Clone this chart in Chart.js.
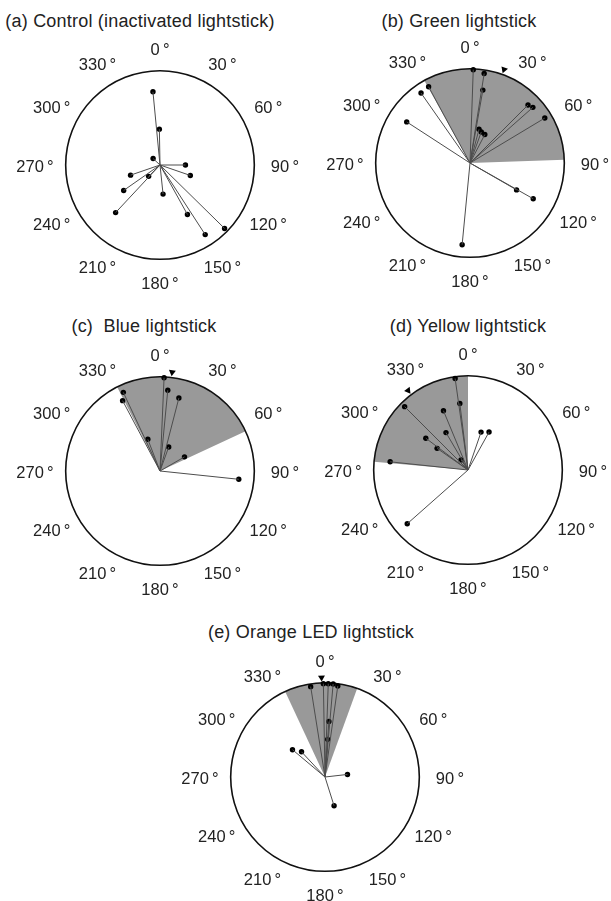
<!DOCTYPE html>
<html>
<head>
<meta charset="utf-8">
<script src="https://cdn.jsdelivr.net/npm/chart.js@4.4.0/dist/chart.umd.min.js"></script>
<style>
  html, body { margin: 0; padding: 0; background: #fff; }
  body { width: 611px; height: 901px; position: relative; overflow: hidden; font-family: "Liberation Sans", Arial, Helvetica, sans-serif; }
  canvas { position: absolute; }
  .title { position: absolute; font-size: 18px; line-height: 18px; letter-spacing: 0.2px; color: #222; white-space: pre; transform: translateX(-50%); }
</style>
</head>
<body>
<div class="title" style="left:140px; top:12px;">(a) Control (inactivated lightstick)</div>
<div class="title" style="left:459px; top:12px;">(b) Green lightstick</div>
<div class="title" style="left:144px; top:317px;">(c)  Blue lightstick</div>
<div class="title" style="left:468px; top:317px;">(d) Yellow lightstick</div>
<div class="title" style="left:311px; top:623px;">(e) Orange LED lightstick</div>

<canvas id="chartA" width="290" height="290"></canvas>
<canvas id="chartB" width="290" height="290"></canvas>
<canvas id="chartC" width="290" height="290"></canvas>
<canvas id="chartD" width="290" height="290"></canvas>
<canvas id="chartE" width="290" height="290"></canvas>

<script>
// compass tick labels (degrees, clockwise from north)
const tickAngles = [0, 30, 60, 90, 120, 150, 180, 210, 240, 270, 300, 330];

// (a) control - heading (deg) and vector length (fraction of radius)
const anglesA = [354.5, 359, 313, 90, 109, 251, 225, 235, 223, 174, 151, 147, 134.5];
const lengthsA = [0.78, 0.38, 0.10, 0.27, 0.34, 0.33, 0.17, 0.47, 0.69, 0.31, 0.60, 0.88, 0.96];

// (b) green
const anglesB = [2, 9, 10, 331.5, 325, 303, 45, 48.5, 59, 15, 20, 27.5, 120, 119.5, 185.5];
const lengthsB = [0.99, 0.96, 0.785, 0.92, 0.905, 0.80, 0.87, 0.89, 0.925, 0.37, 0.35, 0.34, 0.57, 0.77, 0.87];
const sectorB = [331, 88];
const meanB = 20;

// (c) blue
const anglesC = [2.5, 5.5, 14.5, 335, 332, 339, 20, 60, 96];
const lengthsC = [0.99, 0.86, 0.80, 0.92, 0.845, 0.36, 0.27, 0.30, 0.84];
const sectorC = [333, 65];
const meanC = 7;

// (d) yellow
const anglesD = [352, 353, 337.5, 315, 329.5, 307, 305, 325.5, 276, 19, 29, 228.5];
const lengthsD = [0.98, 0.71, 0.68, 0.95, 0.46, 0.56, 0.40, 0.13, 0.83, 0.425, 0.46, 0.86];
const sectorD = [275, 360];
const meanD = 323;

// (e) orange LED
const anglesE = [351, 359, 2, 5, 8, 4, 4, 310, 317, 83.5, 162.5];
const lengthsE = [0.97, 0.99, 0.99, 0.99, 0.975, 0.59, 0.40, 0.45, 0.365, 0.24, 0.32];
const sectorE = [335, 20];
const meanE = 358;

const R = 97;      // circle radius in px
const HALF = 145;  // half canvas size
const rad = d => d * Math.PI / 180;
const toXY = (a, r) => ({ x: Math.sin(rad(a)) * r, y: Math.cos(rad(a)) * r });

// circle, grey sector and angle labels, all placed through the chart scales
const polarFrame = {
    id: 'polarFrame',
    beforeDatasetsDraw(chart, args, opts) {
        const { ctx, scales: { x, y } } = chart;
        const cx = x.getPixelForValue(0);
        const cy = y.getPixelForValue(0);
        const r = x.getPixelForValue(1) - cx;
        ctx.save();
        if (opts.sector) {
            const s = opts.sector[0];
            const span = ((opts.sector[1] - s) % 360 + 360) % 360 || 360;
            ctx.beginPath();
            ctx.moveTo(cx, cy);
            ctx.arc(cx, cy, r, rad(s - 90), rad(s + span - 90));
            ctx.closePath();
            ctx.fillStyle = '#999999';
            ctx.fill();
        }
        ctx.beginPath();
        ctx.arc(cx, cy, r, 0, Math.PI * 2);
        ctx.lineWidth = 1.6;
        ctx.strokeStyle = '#111';
        ctx.stroke();
        ctx.restore();
    },
    afterDraw(chart) {
        const { ctx, scales: { x, y } } = chart;
        const cx = x.getPixelForValue(0);
        const cy = y.getPixelForValue(0);
        ctx.save();
        ctx.font = '16.5px "Liberation Sans", Arial, sans-serif';
        ctx.fillStyle = '#222';
        ctx.textAlign = 'center';
        ctx.textBaseline = 'middle';
        tickAngles.forEach(a => {
            const px = cx + 125 * Math.sin(rad(a));
            const py = cy - 117 * Math.cos(rad(a)) + 2;
            ctx.fillText(a + '\u2009°', px, py);
        });
        ctx.restore();
    }
};

function makePolar(id, center, angles, lengths, sector, mean) {
    const canvas = document.getElementById(id);
    canvas.style.left = (center[0] - HALF) + 'px';
    canvas.style.top = (center[1] - HALF) + 'px';

    const ends = angles.map((a, i) => toXY(a, lengths[i]));

    // one line dataset per vector, centre to end
    const datasets = ends.map(p => ({
        type: 'line',
        data: [{ x: 0, y: 0 }, p],
        borderColor: '#4d4d4d',
        borderWidth: 1,
        pointRadius: 0,
        fill: false
    }));

    datasets.push({
        type: 'line',
        data: ends,
        showLine: false,
        pointRadius: 2.7,
        pointBackgroundColor: '#000',
        pointBorderWidth: 0
    });

    if (mean !== null) {
        datasets.push({
            type: 'line',
            data: [toXY(mean, 1.055)],
            showLine: false,
            pointStyle: 'triangle',
            rotation: mean + 180,
            pointRadius: 4,
            pointBackgroundColor: '#000',
            pointBorderColor: '#000',
            pointBorderWidth: 0
        });
    }

    const lim = HALF / R;
    return new Chart(canvas.getContext('2d'), {
        type: 'line',
        data: { datasets: datasets },
        options: {
            responsive: false,
            maintainAspectRatio: false,
            animation: false,
            events: [],
            layout: { padding: 0 },
            plugins: {
                legend: { display: false },
                tooltip: { enabled: false },
                polarFrame: { sector: sector }
            },
            scales: {
                x: { type: 'linear', min: -lim, max: lim, display: false },
                y: { type: 'linear', min: -lim, max: lim, display: false }
            }
        },
        plugins: [polarFrame]
    });
}

makePolar('chartA', [160, 165], anglesA, lengthsA, null, null);
makePolar('chartB', [470, 163], anglesB, lengthsB, sectorB, meanB);
makePolar('chartC', [160, 471], anglesC, lengthsC, sectorC, meanC);
makePolar('chartD', [468, 470], anglesD, lengthsD, sectorD, meanD);
makePolar('chartE', [325, 777], anglesE, lengthsE, sectorE, meanE);
</script>
</body>
</html>
